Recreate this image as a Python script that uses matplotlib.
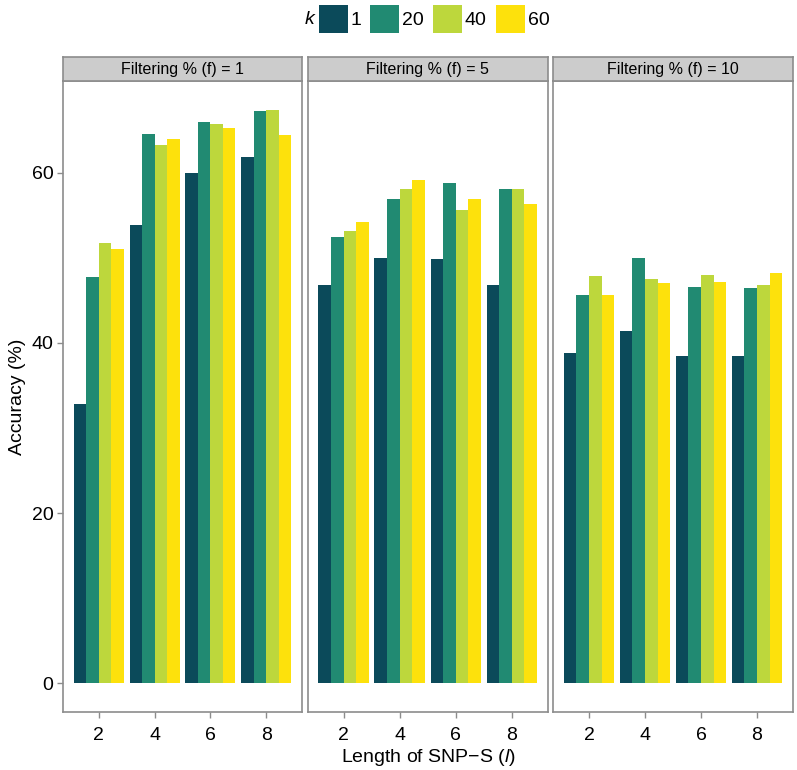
import matplotlib
matplotlib.use("Agg")
import matplotlib.pyplot as plt
from matplotlib.patches import Patch

plt.rcParams['font.family'] = ['Liberation Sans', 'DejaVu Sans']
plt.rcParams['mathtext.fontset'] = 'custom'
plt.rcParams['mathtext.rm'] = 'Liberation Sans'
plt.rcParams['mathtext.it'] = 'Liberation Sans:italic'

# data
lengths = [2, 4, 6, 8]
k_values = ['1', '20', '40', '60']
filters = ['1', '5', '10']

acc_f1 = {'1': [32.8, 53.9, 60.0, 61.8],
          '20': [47.7, 64.5, 66.0, 67.2],
          '40': [51.7, 63.3, 65.7, 67.4],
          '60': [51.0, 64.0, 65.2, 64.4]}
acc_f5 = {'1': [46.8, 50.0, 49.8, 46.8],
          '20': [52.4, 56.9, 58.8, 58.1],
          '40': [53.2, 58.1, 55.6, 58.1],
          '60': [54.2, 59.1, 56.9, 56.3]}
acc_f10 = {'1': [38.8, 41.4, 38.5, 38.5],
           '20': [45.6, 50.0, 46.6, 46.5],
           '40': [47.8, 47.5, 48.0, 46.8],
           '60': [45.6, 47.0, 47.2, 48.2]}
all_acc = [acc_f1, acc_f5, acc_f10]

colors = ['#0b4a5a', '#218a72', '#bdd73c', '#fde10c']
border = '#8c8c8c'

fig = plt.figure(figsize=(7.97, 7.7), dpi=100)
W, H = 797.0, 770.0

panel_x = [(63, 302), (307.5, 548), (553, 793)]
pb, pt = 712, 81
strip_top = 57

ymax = 67.4
ylim = (-0.05 * ymax, ymax * 1.05)
bar_w = 0.45

for p, (x0, x1) in enumerate(panel_x):
    ax = fig.add_axes([x0 / W, 1 - pb / H, (x1 - x0) / W, (pb - pt) / H])
    data = all_acc[p]
    for i, k in enumerate(k_values):
        xs = [l + (i - 1.5) * bar_w for l in lengths]
        ax.bar(xs, data[k], width=bar_w, color=colors[i], linewidth=0)
    ax.set_xlim(0.71, 9.29)
    ax.set_ylim(*ylim)
    ax.set_xticks(lengths)
    ax.set_xticklabels([str(l) for l in lengths], fontsize=14)
    ax.tick_params(axis='both', direction='out', length=4, width=1,
                   color=border, pad=3)
    ax.tick_params(axis='x', pad=7)
    if p == 0:
        ax.set_yticks([0, 20, 40, 60])
        ax.set_yticklabels(['0', '20', '40', '60'], fontsize=14)
        ax.set_ylabel('Accuracy (%)', fontsize=14, labelpad=4)
    else:
        ax.set_yticks([])
    for s in ax.spines.values():
        s.set_color(border)
        s.set_linewidth(1.2)

    # facet strip
    sax = fig.add_axes([x0 / W, 1 - pt / H, (x1 - x0) / W, (pt - strip_top) / H])
    sax.set_facecolor('#cccccc')
    sax.set_xticks([])
    sax.set_yticks([])
    for s in sax.spines.values():
        s.set_color(border)
        s.set_linewidth(1.2)
    sax.text(0.5, 0.48, 'Filtering % (f) = ' + filters[p], ha='center',
             va='center', fontsize=11.5, transform=sax.transAxes)

fig.text(428 / W, 1 - 758 / H, 'Length of SNP\u2212S ($\\mathit{l}$)', ha='center',
         va='center', fontsize=14)

handles = [Patch(facecolor=c, edgecolor='none') for c in colors]
fig.legend(handles, k_values, loc='center', bbox_to_anchor=(434 / W, 1 - 19 / H),
           ncol=4, frameon=False, fontsize=14, handlelength=1.5, handleheight=1.8,
           handletextpad=0.15, columnspacing=0.45, borderpad=0)
fig.text(310 / W, 1 - 20 / H, 'k', style='italic', ha='center', va='center',
         fontsize=14)

fig.savefig('out.png', dpi=100)
